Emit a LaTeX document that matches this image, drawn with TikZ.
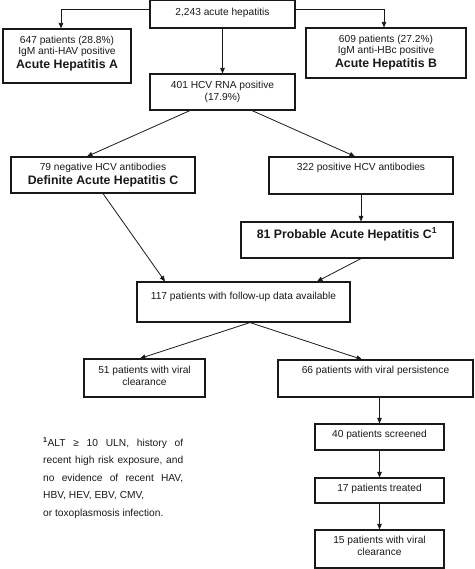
\documentclass[tikz,border=0pt]{standalone}
\usepackage{fontspec}
\setmainfont{Liberation Sans}
\usetikzlibrary{arrows.meta, positioning, calc}
\definecolor{inkgray}{RGB}{25, 25, 25}
\newcommand{\hepbold}[1]{{\fontsize{12.3}{14}\selectfont\bfseries #1}}

\begin{document}
\begin{tikzpicture}[x=1pt, y=-1pt,
  box/.style 2 args={draw=inkgray, line width=1.1pt, minimum width=#1pt, minimum height=#2pt, inner sep=0pt},
  txt/.style={inner sep=0pt, align=center, text=inkgray, font=\fontsize{10.2}{11.5}\selectfont},
  flow/.style={draw=inkgray, line width=0.8pt, -{Triangle[length=5.5pt, width=4.5pt]}}]

  \useasboundingbox (0,0) rectangle (474,569);

  % screening level
  \node[box={145}{27.4}] (all) at (222.5,14.3) {};
  \node[txt] (all-t) at (222.5,13) {2,243 acute hepatitis};
  \node[box={128}{54}] (hepa) at (67,56) {};
  \node[txt] (hepa-t) at (67,53.5) {647 patients (28.8\%)\\IgM anti-HAV positive\\[2pt]\hepbold{Acute Hepatitis A}};
  \node[box={160}{50}] (hepb) at (386,53) {};
  \node[txt] (hepb-t) at (386,52.5) {609 patients (27.2\%)\\IgM anti-HBc positive\\[2pt]\hepbold{Acute Hepatitis B}};
  \node[box={145}{36}] (rna) at (222.5,92) {};
  \node[txt] (rna-t) at (222.5,91.7) {401 HCV RNA positive\\(17.9\%)};

  % antibody split
  \node[box={184}{36}] (defc) at (103,175) {};
  \node[txt] (defc-t) at (103,175.2) {79 negative HCV antibodies\\[2.5pt]\hepbold{Definite Acute Hepatitis C}};
  \node[box={184}{37}] (posab) at (361,175.5) {};
  \node[txt] (posab-t) at (361,168) {322 positive HCV antibodies};
  \node[box={212}{36}] (probc) at (347,240) {};
  \node[txt] (probc-t) at (347,234.2) {\hepbold{81 Probable Acute Hepatitis C\textsuperscript{1}}};

  % follow-up
  \node[box={213}{40}] (fu) at (243.5,302) {};
  \node[txt] (fu-t) at (243.5,297) {117 patients with follow-up data available};
  \node[box={121}{38}] (clear) at (144.5,378) {};
  \node[txt] (clear-t) at (144.5,375.7) {51 patients with viral\\clearance};
  \node[box={195}{37}] (persist) at (375.5,378.5) {};
  \node[txt] (persist-t) at (375.5,371) {66 patients with viral persistence};
  \node[box={129}{26}] (screen) at (379.5,437) {};
  \node[txt] (screen-t) at (379.5,435) {40 patients screened};
  \node[box={129}{25}] (treat) at (379.5,490.5) {};
  \node[txt] (treat-t) at (379.5,489) {17 patients treated};
  \node[box={129}{38}] (svr) at (379.5,549) {};
  \node[txt] (svr-t) at (379.5,545.6) {15 patients with viral\\clearance};

  % footnote
  \node[txt, anchor=base west, text width=140pt, align=justify,
        font=\fontsize{10.2}{17.5}\selectfont] (note) at (43,446)
    {\textsuperscript{\textbf{1}}ALT ≥ 10 ULN, history of\linebreak
     recent high risk exposure, and\linebreak
     no evidence of recent HAV,\linebreak
     HBV, HEV, EBV, CMV,\newline
     or toxoplasmosis infection.};

  % connectors
  \draw[flow] ($(all.west)+(0,-5)$) -| ($(hepa.north)+(-6,0)$);
  \draw[flow] ($(all.east)+(0,-5)$) -| ($(hepb.north)+(-2,0)$);
  \draw[flow] (all.south) -- (rna.north);
  \draw[flow] ($(rna.south)+(-32.5,0)$) -- ($(defc.north)+(-16,0)$);
  \draw[flow] ($(rna.south)+(29.5,0)$) -- ($(posab.north)+(-6,0)$);
  \draw[flow] (posab.south) -- (posab.south |- probc.north);
  \draw[flow] (defc.south) -- ($(fu.north)+(-78.5,0)$);
  \draw[flow] ($(probc.south)+(14,0)$) -- ($(fu.north)+(73.5,0)$);
  \draw[flow] ($(fu.south)+(6.5,0)$) -- ($(clear.north)+(-4.5,0)$);
  \draw[flow] ($(fu.south)+(6.5,0)$) -- ($(persist.north)+(-13.5,0)$);
  \draw[flow] (screen.north |- persist.south) -- (screen.north);
  \draw[flow] (screen.south) -- (treat.north);
  \draw[flow] (treat.south) -- (svr.north);

\end{tikzpicture}
\end{document}
